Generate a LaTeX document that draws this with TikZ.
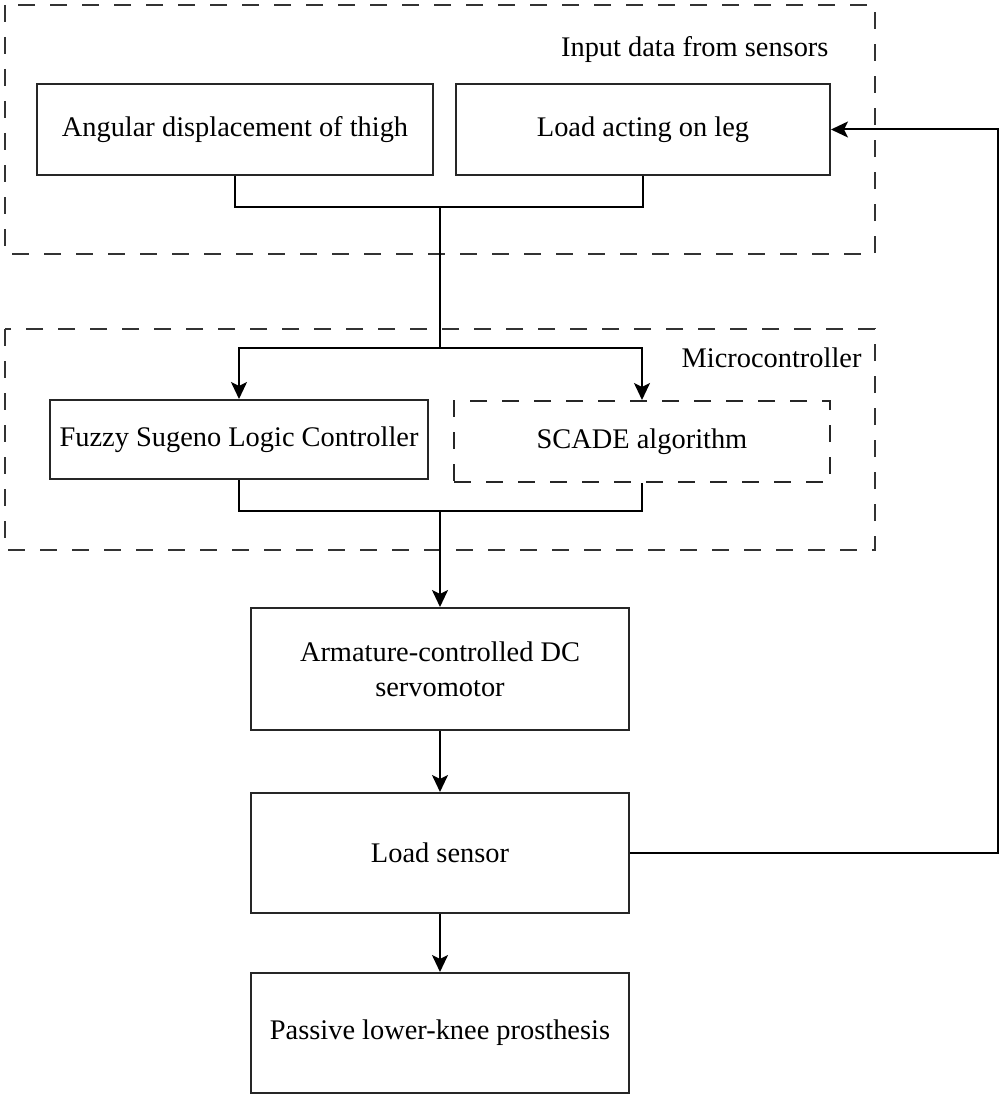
\documentclass[tikz,border=0pt]{standalone}
\usepackage{fontspec}
\setmainfont{Liberation Serif}
\usetikzlibrary{arrows.meta}
\begin{document}
\begin{tikzpicture}[x=1pt,y=-1pt,
  every node/.style={font=\fontsize{28.4}{35}\selectfont, text=black},
  box/.style={draw=black!85, line width=2pt, rectangle, inner sep=0pt, align=center},
  dbox/.style={box, dash pattern=on 17pt off 15pt},
  group/.style={draw=black!80, line width=2pt, dash pattern=on 17pt off 15pt},
  link/.style={draw=black, line width=2pt},
  arrow/.style={link, -{Stealth[length=17pt, width=16pt, inset=4pt]}}]
\useasboundingbox (0,0) rectangle (1000,1097);

% dashed groups
\draw[group] (5,5) rectangle (875,254);
\draw[group] (5,329) rectangle (875,550);
\node[anchor=base east] (lblin) at (832,57) {Input data from sensors};
\node[anchor=base east] (lblmc) at (865,367) {Microcontroller};

% blocks
\node[box, minimum width=396pt, minimum height=91pt] (ang) at (235,129.5) {Angular displacement of thigh};
\node[box, minimum width=374pt, minimum height=91pt] (load) at (643,129.5) {Load acting on leg};
\node[box, minimum width=378pt, minimum height=79pt] (fuzzy) at (239,439.5) {Fuzzy Sugeno Logic Controller};
\node[dbox, minimum width=376pt, minimum height=81pt] (scade) at (642,441.5) {SCADE algorithm};
\node[box, minimum width=378pt, minimum height=122pt] (motor) at (440,669) {Armature-controlled DC\\servomotor};
\node[box, minimum width=378pt, minimum height=120pt] (sensor) at (440,853) {Load sensor};
\node[box, minimum width=378pt, minimum height=120pt] (knee) at (440,1033) {Passive lower-knee prosthesis};

% junction points
\coordinate (jin) at (440,207);
\coordinate (jsplit) at (440,348);
\coordinate (jout) at (440,511);
\coordinate (fb) at (998,853);

% connectors
\draw[link] (ang.south) |- (jin);
\draw[link] (load.south) |- (jin);
\draw[link] (jin) -- (jsplit);
\draw[arrow] (jsplit) -| (fuzzy.north);
\draw[arrow] (jsplit) -| (scade.north);
\draw[link] (fuzzy.south) |- (jout);
\draw[link] (scade.south) |- (jout);
\draw[arrow] (jout) -- (motor.north);
\draw[arrow] (motor.south) -- (sensor.north);
\draw[arrow] (sensor.south) -- (knee.north);
\draw[arrow] (sensor.east) -- (fb) |- (load.east);
\end{tikzpicture}
\end{document}
